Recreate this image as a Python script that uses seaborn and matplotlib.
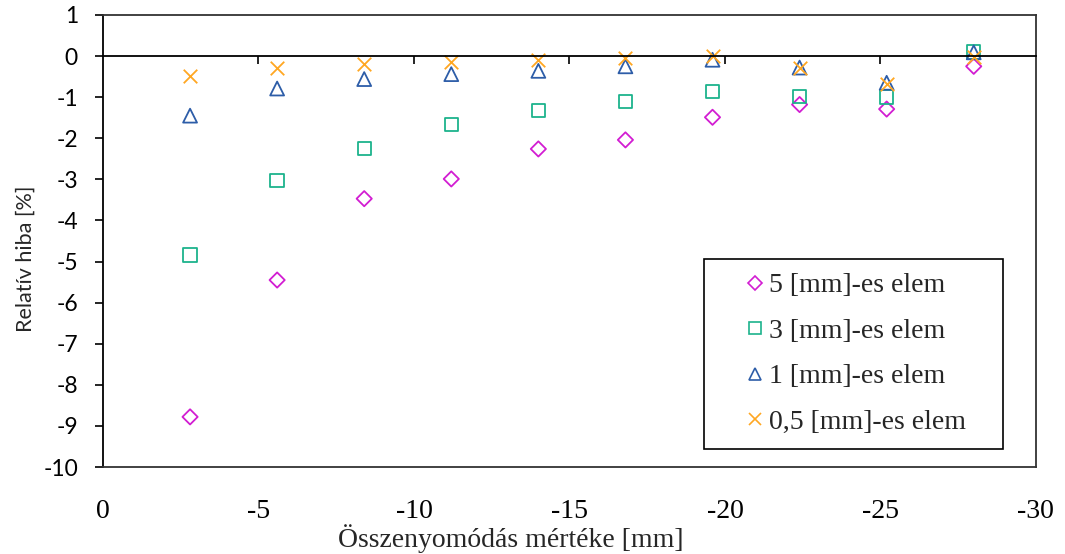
import matplotlib
matplotlib.use("Agg")
import matplotlib.pyplot as plt
import seaborn as sns
import pandas as pd
from matplotlib.lines import Line2D
from matplotlib.legend_handler import HandlerLine2D

# Compression steps [mm]
displacement = [-2.8, -5.6, -8.4, -11.2, -14.0, -16.8, -19.6, -22.4, -25.2, -28.0]

# Relative error [%] for each element size
err_5mm = [-8.78, -5.45, -3.47, -2.99, -2.26, -2.04, -1.49, -1.18, -1.29, -0.25]
err_3mm = [-4.84, -3.03, -2.25, -1.66, -1.33, -1.10, -0.87, -0.99, -1.00, 0.10]
err_1mm = [-1.45, -0.79, -0.56, -0.44, -0.36, -0.25, -0.09, -0.28, -0.65, 0.09]
err_05mm = [-0.48, -0.30, -0.20, -0.15, -0.10, -0.04, 0.01, -0.29, -0.68, -0.02]

series_labels = ["5 [mm]-es elem", "3 [mm]-es elem", "1 [mm]-es elem", "0,5 [mm]-es elem"]
x_ticks = [0, -5, -10, -15, -20, -25, -30]
zero_line_ticks = [-5, -10, -15, -20, -25]
y_ticks = list(range(-10, 2))

df = pd.DataFrame({
    "x": displacement * 4,
    "y": err_5mm + err_3mm + err_1mm + err_05mm,
    "series": [s for s in series_labels for _ in displacement],
})

styles = {
    "5 [mm]-es elem": dict(marker="D", color="#D21DD2", s=60, filled=True, ms=7.5),
    "3 [mm]-es elem": dict(marker="s", color="#1CB38C", s=92, filled=True, ms=9),
    "1 [mm]-es elem": dict(marker="^", color="#2D5DA8", s=100, filled=True, ms=9),
    "0,5 [mm]-es elem": dict(marker="x", color="#FFA722", s=95, filled=False, ms=9),
}

sns.set_theme(style="white")
plt.rcParams["font.family"] = ["Lato", "DejaVu Sans"]
serif = ["Liberation Serif", "DejaVu Serif"]

fig = plt.figure(figsize=(10.65, 5.54), dpi=100)
ax = fig.add_axes([0.0967, 0.157, 0.876, 0.816])

for name in series_labels:
    st = styles[name]
    sub = df[df["series"] == name]
    if st["filled"]:
        sns.scatterplot(data=sub, x="x", y="y", ax=ax, marker=st["marker"], s=st["s"],
                        facecolor="none", edgecolor=st["color"], linewidth=1.3,
                        legend=False, zorder=3)
    else:
        sns.scatterplot(data=sub, x="x", y="y", ax=ax, marker=st["marker"], s=st["s"],
                        color=st["color"], linewidth=1.3, legend=False, zorder=3)

ax.set_xlim(0, -30)
ax.set_ylim(-10, 1)
ax.set_xticks(x_ticks)
ax.set_xticklabels([str(t) for t in x_ticks], fontfamily=serif, fontsize=20)
ax.set_yticks(y_ticks)
ax.set_yticklabels([str(t) for t in y_ticks], fontsize=16.5)
ax.tick_params(axis="x", length=0, pad=23, colors="black")
ax.tick_params(axis="y", direction="out", length=6, width=1.2, pad=12, colors="black", left=True)

for side in ["top", "right", "bottom"]:
    ax.spines[side].set_color("#333333")
    ax.spines[side].set_linewidth(1.3)
ax.spines["left"].set_color("black")
ax.spines["left"].set_linewidth(1.3)

ax.set_xlabel("Összenyomódás mértéke [mm]", fontfamily=serif, fontsize=20)
ax.xaxis.set_label_coords(0.437, -0.126)
ax.xaxis.label.set_va("top")
ax.set_ylabel("Relatív hiba [%]", fontsize=15.5)
ax.yaxis.set_label_coords(-0.072, 0.46)

# horizontal axis line crossing at zero, with its tick marks
ax2 = ax.twiny()
ax2.set_xlim(ax.get_xlim())
ax2.set_xticks(zero_line_ticks)
ax2.xaxis.set_ticks_position("bottom")
ax2.spines["bottom"].set_position(("data", 0))
ax2.spines["bottom"].set_color("black")
ax2.spines["bottom"].set_linewidth(1.3)
for side in ["top", "left", "right"]:
    ax2.spines[side].set_visible(False)
ax2.tick_params(axis="x", direction="out", length=6, width=1.2, labelbottom=False,
                labeltop=False, top=False, bottom=True, colors="black")

handles = [
    Line2D([], [], linestyle="none", marker=styles[n]["marker"],
           markerfacecolor="none", markeredgecolor=styles[n]["color"],
           markersize=styles[n]["ms"], markeredgewidth=1.2)
    for n in series_labels
]
leg = ax.legend(handles, series_labels, loc="upper left",
                bbox_to_anchor=(0.644, 0.0, 0.3205, 0.460), mode="expand",
                borderaxespad=0, borderpad=0.5, labelspacing=0.72,
                handlelength=1.6, handletextpad=0.25,
                handler_map={Line2D: HandlerLine2D(xpad=1.1)},
                prop={"family": serif, "size": 20},
                frameon=True, fancybox=False, edgecolor="black", framealpha=1)
leg.get_frame().set_linewidth(1.2)

fig.savefig("out.png", dpi=100)
